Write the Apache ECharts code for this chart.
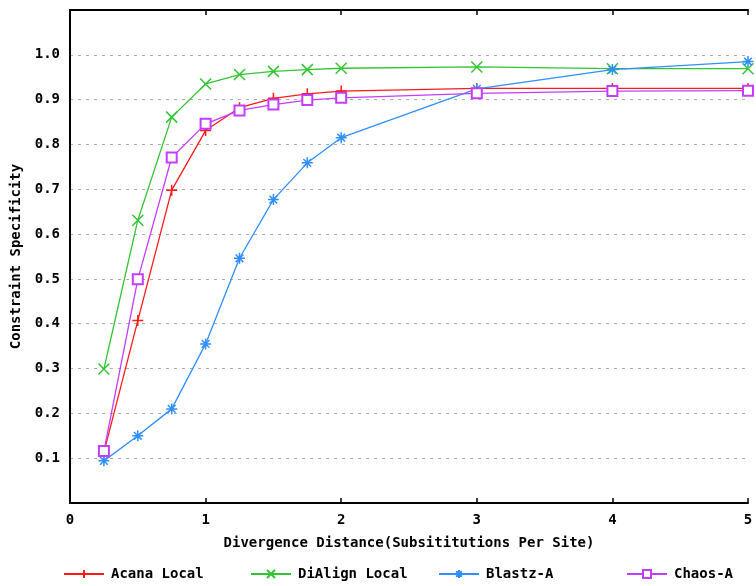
<!DOCTYPE html>
<html>
<head>
<meta charset="utf-8">
<script src="https://cdn.jsdelivr.net/npm/echarts@6/dist/echarts.min.js"></script>
<style>html,body{margin:0;padding:0;background:#fff;}#c{width:756px;height:586px;}</style>
</head>
<body>
<div id="c"></div>
<script>
const xValues = [0.25, 0.5, 0.75, 1, 1.25, 1.5, 1.75, 2, 3, 4, 5];
const acanaLocal = [0.113, 0.407, 0.698, 0.831, 0.882, 0.903, 0.913, 0.919, 0.925, 0.925, 0.925];
const diAlignLocal = [0.299, 0.631, 0.861, 0.935, 0.956, 0.963, 0.967, 0.970, 0.973, 0.969, 0.969];
const blastzA = [0.094, 0.150, 0.210, 0.355, 0.546, 0.677, 0.759, 0.815, 0.924, 0.967, 0.985];
const chaosA = [0.116, 0.499, 0.771, 0.846, 0.876, 0.889, 0.899, 0.904, 0.914, 0.919, 0.920];
const seriesNames = ['Acana Local', 'DiAlign Local', 'Blastz-A', 'Chaos-A'];
const xTitle = 'Divergence Distance(Subsititutions Per Site)';
const yTitle = 'Constraint Specificity';

const FONT = 'DejaVu Sans Mono';
const colors = ['#ff1a1a', '#33c433', '#2f8fff', '#c43cff'];
const symbols = [
  'path://M5,0L5,10M0,5L10,5',
  'path://M0,0L10,10M10,0L0,10',
  'path://M5,0L5,10M0,5L10,5M1.5,1.5L8.5,8.5M8.5,1.5L1.5,8.5',
  'emptyRect'
];
const seriesData = [acanaLocal, diAlignLocal, blastzA, chaosA];

const chart = echarts.init(document.getElementById('c'), null, {renderer: 'canvas'});
const legendLefts = [63, 250, 438, 626];

const option = {
  animation: false,
  backgroundColor: '#fff',
  textStyle: {fontFamily: FONT, fontWeight: 'bold', color: '#000'},
  grid: {left: 70, right: 8, top: 10, bottom: 83, containLabel: false},
  legend: seriesNames.map((n, i) => ({
    data: [n],
    left: legendLefts[i],
    top: 567,
    itemWidth: 40,
    itemHeight: 10,
    itemGap: 0,
    textStyle: {fontFamily: FONT, fontWeight: 'bold', fontSize: 14, color: '#000', padding: [0,0,0,2]},
    padding: 0
  })),
  xAxis: [{
    type: 'value',
    min: 0, max: 5, interval: 1,
    name: xTitle,
    nameLocation: 'middle',
    nameGap: 33,
    nameTextStyle: {fontFamily: FONT, fontWeight: 'bold', fontSize: 14, color: '#000'},
    axisLine: {show: true, onZero: false, lineStyle: {color: '#000', width: 2}},
    axisTick: {show: true, inside: true, length: 5, lineStyle: {color: '#000', width: 1.5}},
    axisLabel: {fontFamily: FONT, fontWeight: 'bold', fontSize: 14, color: '#000', margin: 10},
    splitLine: {show: false}
  }, {
    type: 'value',
    position: 'top',
    min: 0, max: 5, interval: 1,
    axisLine: {show: true, onZero: false, lineStyle: {color: '#000', width: 2}},
    axisTick: {show: true, inside: true, length: 5, lineStyle: {color: '#000', width: 1.5}},
    axisLabel: {show: false},
    splitLine: {show: false}
  }],
  yAxis: {
    type: 'value',
    min: 0, max: 1.1, interval: 0.1,
    name: yTitle,
    nameLocation: 'middle',
    nameGap: 44,
    nameRotate: 90,
    nameTextStyle: {fontFamily: FONT, fontWeight: 'bold', fontSize: 14, color: '#000'},
    axisLine: {show: true, onZero: false, lineStyle: {color: '#000', width: 2}},
    axisTick: {show: false},
    axisLabel: {
      fontFamily: FONT, fontWeight: 'bold', fontSize: 14, color: '#000', margin: 10,
      formatter: v => (v < 0.05 || v > 1.05) ? '' : v.toFixed(1)
    },
    splitLine: {show: true, lineStyle: {color: '#aaaaaa', type: [3, 5], width: 1}}
  },
  series: seriesNames.map((n, i) => ({
    name: n,
    type: 'line',
    data: xValues.map((x, j) => [x, seriesData[i][j]]),
    symbol: symbols[i],
    symbolSize: i === 3 ? 10 : 11,
    showAllSymbol: true,
    lineStyle: {color: colors[i], width: 1.3},
    itemStyle: {color: colors[i], borderColor: colors[i], borderWidth: i === 3 ? 1.3 : 1.5},
    emphasis: {disabled: true}
  }))
};
chart.setOption(option);
</script>
</body>
</html>
